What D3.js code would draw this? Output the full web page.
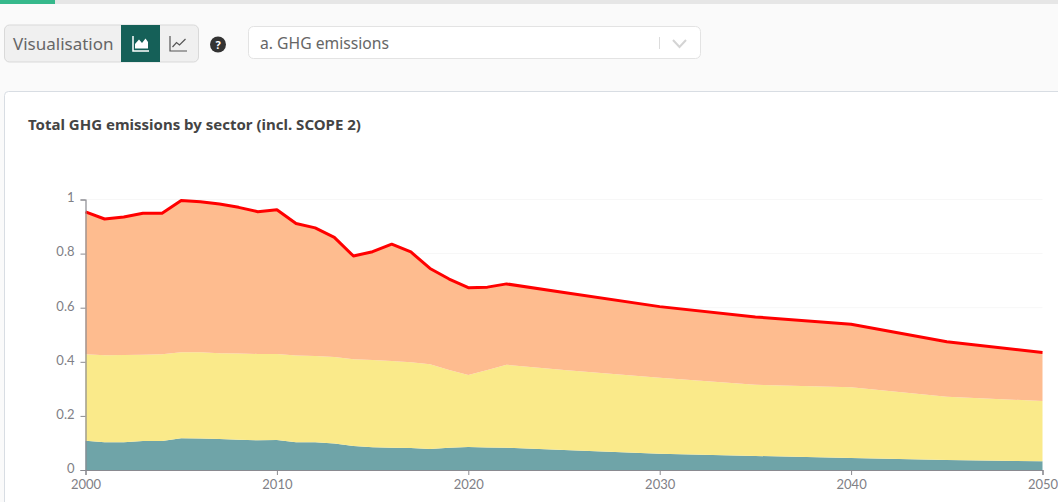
<!DOCTYPE html>
<html>
<head>
<meta charset="utf-8">
<script src="https://cdn.jsdelivr.net/npm/d3@7"></script>
<style>
    html, body { margin: 0; padding: 0; background: #fafafa; overflow: hidden; }
    svg { display: block; font-family: "Noto Sans", Lato, sans-serif; }
</style>
</head>
<body>
<svg id="chart" width="1058" height="502"></svg>
<script>
const years = [2000, 2001, 2002, 2003, 2004, 2005, 2006, 2007, 2008, 2009, 2010, 2011, 2012, 2013, 2014, 2015, 2016, 2017, 2018, 2019, 2020, 2021, 2022, 2025, 2030, 2035, 2040, 2045, 2050];
const tealValues = [.108, .103, .103, .107, .107, .117, .116, .115, .112, .110, .111, .103, .103, .098, .089, .084, .082, .081, .078, .082, .085, .083, .082, .074, .060, .052, .044, .037, .032];
const yellowValues = [.320, .321, .322, .319, .321, .318, .319, .317, .319, .319, .318, .320, .318, .320, .320, .323, .321, .317, .313, .288, .266, .287, .307, .296, .281, .263, .262, .234, .223];
const orangeValues = [.526, .504, .510, .523, .521, .561, .557, .551, .540, .526, .533, .488, .474, .442, .382, .400, .432, .408, .354, .336, .323, .306, .299, .286, .263, .251, .233, .203, .179];
const totalValues = [.954, .928, .935, .949, .949, .996, .992, .983, .971, .955, .962, .911, .895, .860, .791, .807, .835, .806, .745, .706, .674, .676, .688, .656, .604, .566, .539, .474, .434];
const seriesKeys = ["teal", "yellow", "orange"];
const seriesColors = ["#6fa4a8", "#faea8a", "#febc8f"];
const xTicks = [2000, 2010, 2020, 2030, 2040, 2050];
const yTicks = [0, 0.2, 0.4, 0.6, 0.8, 1];

const svg = d3.select("#chart");

// page furniture
svg.append("rect").attr("x", 0).attr("y", 0).attr("width", 1058).attr("height", 4).attr("fill", "#e6e6e6");
svg.append("rect").attr("x", 0).attr("y", 0).attr("width", 55).attr("height", 4).attr("fill", "#36b88b");

// visualisation toggle
svg.append("rect").attr("x", 4.5).attr("y", 25).attr("width", 194).attr("height", 37).attr("rx", 5)
    .attr("fill", "#f0f0f0").attr("stroke", "#d9d9d9");
svg.append("text").attr("x", 13).attr("y", 50).attr("font-size", 17)
    .attr("fill", "#666").text("Visualisation");
svg.append("rect").attr("x", 121).attr("y", 25).attr("width", 39).attr("height", 37).attr("fill", "#156058");

svg.append("path").attr("d", "M133 36V51H149")
    .attr("fill", "none").attr("stroke", "#fff").attr("stroke-width", 1.5);
svg.append("path").attr("d", "M135 48.5V44L139 39.5L142 43L145.5 38.5L148 42V48.5Z").attr("fill", "#fff");
svg.append("path").attr("d", "M170 36V51H187")
    .attr("fill", "none").attr("stroke", "#555").attr("stroke-width", 1.2);
svg.append("path").attr("d", "M172.5 47L176.5 42.5L179.5 45L185.5 39")
    .attr("fill", "none").attr("stroke", "#555").attr("stroke-width", 1.2);

// help icon
svg.append("circle").attr("cx", 218).attr("cy", 44.5).attr("r", 8).attr("fill", "#333");
svg.append("text").attr("x", 218).attr("y", 48.5).attr("text-anchor", "middle").attr("font-size", 11)
    .attr("font-weight", 700).attr("fill", "#fff").text("?");

// dropdown
svg.append("rect").attr("x", 248.5).attr("y", 26.5).attr("width", 452).attr("height", 32).attr("rx", 5)
    .attr("fill", "#fff").attr("stroke", "#e3e3e3");
svg.append("text").attr("x", 260).attr("y", 49).attr("font-size", 15.7)
    .attr("fill", "#666").text("a. GHG emissions");
svg.append("line").attr("x1", 659.5).attr("x2", 659.5).attr("y1", 37).attr("y2", 49).attr("stroke", "#dcdcdc");
svg.append("path").attr("d", "M673 40L679.5 47L686 40").attr("fill", "none").attr("stroke", "#d4d4d4").attr("stroke-width", 2);

// card
svg.append("rect").attr("x", 4.5).attr("y", 91.5).attr("width", 1070).attr("height", 430).attr("rx", 4)
    .attr("fill", "#fff").attr("stroke", "#d8dde3");
svg.append("text").attr("x", 28).attr("y", 129.5).attr("font-size", 15).attr("font-weight", 700)
    .attr("fill", "#444").text("Total GHG emissions by sector (incl. SCOPE 2)");

// scales
const x = d3.scaleLinear().domain([2000, 2050]).range([85.5, 1042.5]);
const y = d3.scaleLinear().domain([0, 1]).range([470, 199.5]);

// split lines
svg.append("g").selectAll("line")
    .data(yTicks.filter(d => d > 0))
    .enter()
    .append("line")
    .attr("x1", x(2000))
    .attr("x2", x(2050))
    .attr("y1", d => y(d))
    .attr("y2", d => y(d))
    .attr("stroke", "#f7f7f7");

// stacked areas
const rows = years.map((year, i) => ({
    year: year,
    teal: tealValues[i],
    yellow: yellowValues[i],
    orange: orangeValues[i]
}));
const stacked = d3.stack().keys(seriesKeys)(rows);
const area = d3.area()
    .x(d => x(d.data.year))
    .y0(d => y(d[0]))
    .y1(d => y(d[1]));

svg.append("g").selectAll("path")
    .data(stacked)
    .enter()
    .append("path")
    .attr("d", area)
    .attr("fill", (d, i) => seriesColors[i]);

// total line
const totalLine = d3.line()
    .x((d, i) => x(years[i]))
    .y(d => y(d));
svg.append("path")
    .datum(totalValues)
    .attr("d", totalLine)
    .attr("fill", "none")
    .attr("stroke", "#ff0000")
    .attr("stroke-width", 3)
    .attr("stroke-linejoin", "round");

// axes
const yAxis = d3.axisLeft(y).tickValues(yTicks).tickFormat(d => String(d)).tickSize(5).tickPadding(6);
const xAxis = d3.axisBottom(x).tickValues(xTicks).tickFormat(d3.format("d")).tickSize(5).tickPadding(5);

const yG = svg.append("g").attr("transform", `translate(${x(2000)},0)`).call(yAxis);
const xG = svg.append("g").attr("transform", `translate(0,${y(0)})`).call(xAxis);

[yG, xG].forEach(g => {
    g.attr("font-family", "Lato, 'Noto Sans', sans-serif").attr("font-size", 13);
    g.selectAll("path").attr("stroke", "#8a8a90").attr("stroke-width", 1.2);
    g.selectAll("line").attr("stroke", "#8a8a90");
    g.selectAll("text").attr("fill", "#808086");
});
yG.selectAll("text").attr("dy", "0.18em");
</script>
</body>
</html>
